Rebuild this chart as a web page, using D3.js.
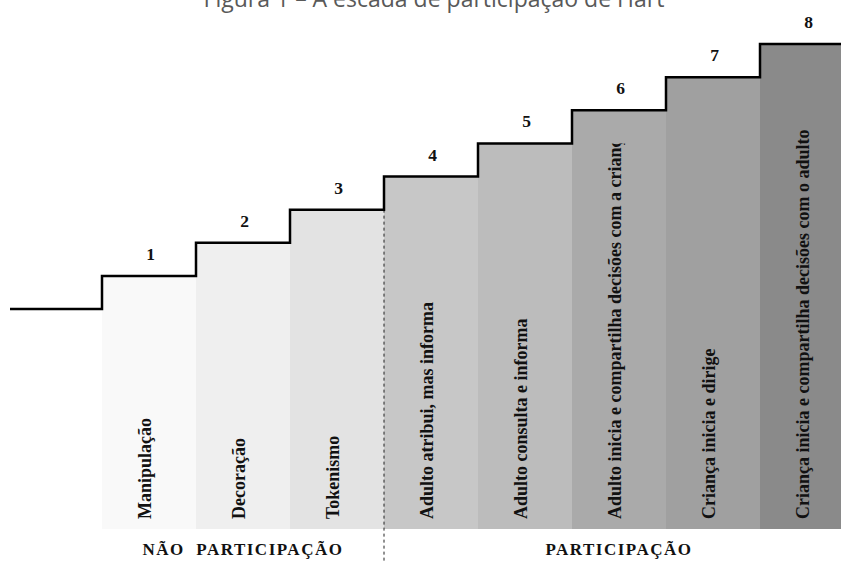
<!DOCTYPE html>
<html lang="pt">

<head>
    <title>A escada de participação de Hart</title>
    <meta charset="UTF-8">
    <script src="https://cdn.jsdelivr.net/npm/d3@7"></script>
    <style>
        html, body {
            margin: 0;
            padding: 0;
            background: #fff;
        }

        svg {
            display: block;
        }

        .title {
            font-family: "Open Sans", sans-serif;
            font-size: 23px;
            fill: #595959;
        }

        .num, .rung, .group {
            font-family: "Liberation Serif", "Times New Roman", serif;
            font-weight: bold;
            fill: #111;
        }

        .group {
            white-space: pre;
        }
    </style>
</head>

<body>
    <div id="chart"></div>

    <script>
        // rungs of the ladder
        const levels = [1, 2, 3, 4, 5, 6, 7, 8];
        const rungLabels = [
            "Manipulação",
            "Decoração",
            "Tokenismo",
            "Adulto atribui, mas informa",
            "Adulto consulta e informa",
            "Adulto inicia e compartilha decisões com a criança",
            "Criança inicia e dirige",
            "Criança inicia e compartilha decisões com o adulto"
        ];
        const rungColors = ["#f9f9f9", "#efefef", "#e3e3e3", "#c7c7c7", "#bcbcbc", "#aaaaaa", "#a0a0a0", "#8a8a8a"];

        // groups under the ladder
        const groupNames = ["NÃO  PARTICIPAÇÃO", "PARTICIPAÇÃO"];
        const groupFrom = [1, 4];
        const groupTo = [3, 8];

        const titleText = "Figura 1 – A escada de participação de Hart";

        const width = 841, height = 562;
        const groundX = 10, baseY = 529;

        const svg = d3.select("#chart")
            .append("svg")
            .attr("width", width)
            .attr("height", height);

        // x: left edge of rung i is x(i - 1)
        const x = d3.scaleLinear().domain([0, 8]).range([102, 854]);
        const y = d3.scaleLinear().domain([0, 8]).range([309, 44]);

        const defs = svg.append("defs");

        // columns
        svg.selectAll("rect.col")
            .data(levels)
            .join("rect")
            .attr("class", "col")
            .attr("x", d => x(d - 1))
            .attr("y", d => y(d))
            .attr("width", d => x(d) - x(d - 1))
            .attr("height", d => baseY - y(d))
            .attr("fill", (d, i) => rungColors[i]);

        // each label is clipped at the height of the rung before it
        defs.selectAll("clipPath")
            .data(levels)
            .join("clipPath")
            .attr("id", d => `clip${d}`)
            .append("rect")
            .attr("x", d => x(d - 1))
            .attr("y", d => y(d - 1))
            .attr("width", d => x(d) - x(d - 1))
            .attr("height", d => baseY - y(d - 1));

        svg.selectAll("g.rung")
            .data(levels)
            .join("g")
            .attr("class", "rung-wrap")
            .attr("clip-path", d => `url(#clip${d})`)
            .append("text")
            .attr("class", "rung")
            .attr("font-size", 18)
            .attr("transform", d => `translate(${(x(d - 1) + x(d)) / 2 + 2},${baseY - 10}) rotate(-90)`)
            .text((d, i) => rungLabels[i]);

        // divider between non participation and participation
        svg.append("line")
            .attr("x1", x(3))
            .attr("x2", x(3))
            .attr("y1", y(3))
            .attr("y2", height)
            .attr("stroke", "#222")
            .attr("stroke-width", 1)
            .attr("stroke-dasharray", "3,3");

        // the staircase outline
        const stairPts = [{ px: groundX, v: 0 }]
            .concat(levels.map(d => ({ px: x(d - 1), v: d })))
            .concat([{ px: x(8), v: 8 }]);

        svg.append("path")
            .datum(stairPts)
            .attr("fill", "none")
            .attr("stroke", "#000")
            .attr("stroke-width", 2.5)
            .attr("d", d3.line().x(d => d.px).y(d => y(d.v)).curve(d3.curveStepAfter));

        // rung numbers
        svg.selectAll("text.num")
            .data(levels)
            .join("text")
            .attr("class", "num")
            .attr("font-size", 17.5)
            .attr("text-anchor", "middle")
            .attr("x", d => (x(d - 1) + x(d)) / 2 + 1.5)
            .attr("y", d => y(d) - 16)
            .text(d => d);

        // group labels
        svg.selectAll("text.group")
            .data(groupNames)
            .join("text")
            .attr("class", "group")
            .attr("font-size", 17)
            .attr("letter-spacing", 1.5)
            .attr("text-anchor", "middle")
            .attr("x", (d, i) => (x(groupFrom[i] - 1) + x(groupTo[i])) / 2)
            .attr("y", 555)
            .text(d => d);

        svg.append("text")
            .attr("class", "title")
            .attr("text-anchor", "middle")
            .attr("x", 434)
            .attr("y", 7)
            .text(titleText);
    </script>
</body>

</html>
